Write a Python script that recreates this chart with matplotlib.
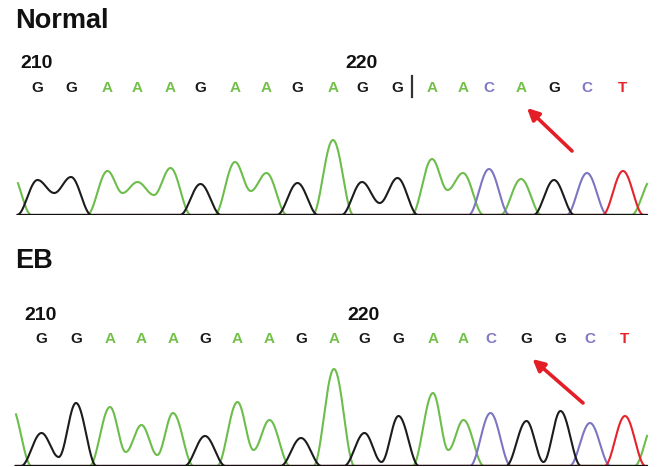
import numpy as np
import matplotlib
matplotlib.use("Agg")
import matplotlib.pyplot as plt
from matplotlib import font_manager

# ---- sequence data -------------------------------------------------------
normal_bases = list("GGAAAGAAGAGGAACAGCT")
normal_pos = [37.5, 71, 107.5, 137.5, 170.5, 200.5, 235, 266.5, 297.5, 333,
              362, 397.5, 432, 463, 489, 521, 554, 587, 623]
normal_height = [35, 38, 44, 33, 47, 31, 53, 42, 32, 75,
                 33, 37, 56, 42, 46, 36, 35, 42, 44]
# signal minimum between neighbouring peaks of the same base
normal_valleys = {0: 22, 2: 22, 3: 20, 6: 24, 10: 12, 12: 25}
# partial peaks running off the ends of the window: (position, height, base)
normal_flanks = [(11, 43, "A"), (652, 36, "A")]

eb_bases = list("GGAAAGAAGAGGAACGGCT")
eb_pos = [41.5, 76, 110, 141.5, 173, 205, 237.5, 269.5, 301, 334,
          364.5, 398.5, 433, 463.5, 490.5, 526.5, 560.5, 590, 625]
eb_height = [33, 63, 59, 41, 53, 30, 64, 46, 28, 97,
             33, 50, 73, 46, 53, 45, 55, 43, 50]
eb_valleys = {0: 9, 2: 14, 3: 11, 6: 16, 10: 4, 12: 16, 15: 4}
eb_flanks = [(11, 60, "A"), (655, 45, "A")]

first_position = 210
tick_every = 10
mutation_index = 15  # A>G

trace_colors = {"A": "#6dbd4c", "G": "#1c1c1c", "C": "#7c76c2", "T": "#e6222b"}
letter_colors = {"A": "#74c04a", "G": "#1a1a1a", "C": "#7f78c6", "T": "#e6222b"}

# ---- fonts ---------------------------------------------------------------
installed = {f.name for f in font_manager.fontManager.ttflist}
narrow = "Liberation Sans Narrow" in installed
family = "Liberation Sans Narrow" if narrow else "Liberation Sans"
plt.rcParams["font.family"] = [family, "DejaVu Sans"]
TITLE_SIZE = 21 if narrow else 19.5
BASE_SIZE = 12 if narrow else 11
NUM_SIZE = 15 if narrow else 14

HALF_WIDTH = 20.5


def channel_trace(x, peaks, valleys, base):
    """Build one dye channel as a smooth curve through peak/valley knots."""
    knots = []
    prev = None
    for idx, (p, h, b) in enumerate(peaks):
        if b != base:
            continue
        if prev is not None and valleys.get(prev[0]) is not None and prev[0] == idx - 1:
            knots.append(((prev[1] + p) / 2.0, valleys[prev[0]]))
        else:
            if prev is not None:
                knots.append((prev[1] + HALF_WIDTH, 0.0))
            knots.append((p - HALF_WIDTH, 0.0))
        knots.append((p, h))
        prev = (idx, p)
    if prev is not None:
        knots.append((prev[1] + HALF_WIDTH, 0.0))
    kx = np.array([k[0] for k in knots])
    ky = np.array([k[1] for k in knots])
    y = np.zeros_like(x)
    seg = np.searchsorted(kx, x) - 1
    ok = (seg >= 0) & (seg < len(kx) - 1)
    s = seg[ok]
    t = (x[ok] - kx[s]) / (kx[s + 1] - kx[s])
    y[ok] = ky[s] + (ky[s + 1] - ky[s]) * (1 - np.cos(np.pi * t)) / 2.0
    return y


def draw_panel(ax, title, bases, pos, height, valleys, flanks, x0, x1,
               arrow_tail, bar_after=None):
    # peak list: flank, called bases, flank (valley keys shift by one)
    peaks = [flanks[0]] + list(zip(pos, height, bases)) + [flanks[1]]
    shifted = {k + 1: v for k, v in valleys.items()}
    x = np.linspace(x0, x1, 2500)
    for base in ["A", "C", "T", "G"]:
        ax.plot(x, channel_trace(x, peaks, shifted, base),
                color=trace_colors[base], lw=1.5, zorder=2,
                solid_joinstyle="round")
    ax.plot([x0 - 2, x1], [0, 0], color="#111111", lw=2.3, zorder=3,
            solid_capstyle="butt")

    ymax = ax.get_ylim()[1]
    ax.text(15, ymax - 21, title, fontsize=TITLE_SIZE, fontweight="bold",
            ha="left", va="center", color="#111111")
    for i, (b, p) in enumerate(zip(bases, pos)):
        ax.text(p, 127, b, fontsize=BASE_SIZE, fontweight="bold", ha="center",
                va="center", color=letter_colors[b])
        if i % tick_every == 0:
            ax.text(p - 1, 151, str(first_position + i), fontsize=NUM_SIZE,
                    fontweight="bold", ha="center", va="center",
                    color="#111111")
    if bar_after is not None:
        bx = (pos[bar_after] + pos[bar_after + 1]) / 2.0 - 3
        ax.plot([bx, bx], [118, 139], color="#333333", lw=1.6, zorder=3)

    head = (pos[mutation_index] + 6, 107)
    ax.annotate("", xy=head, xytext=arrow_tail,
                arrowprops=dict(arrowstyle="-|>,head_length=0.7,head_width=0.35",
                                color="#e41e26", lw=2.6,
                                shrinkA=0, shrinkB=0))


fig = plt.figure(figsize=(6.57, 4.67), dpi=100)
H = 467.0

ax_top = fig.add_axes([0, (H - 215) / H, 1, 215 / H])
ax_top.set_xlim(0, 657)
ax_top.set_ylim(0, 215)
ax_bot = fig.add_axes([0, 1 / H, 1, 226 / H])
ax_bot.set_xlim(0, 657)
ax_bot.set_ylim(0, 226)
for ax in (ax_top, ax_bot):
    ax.axis("off")

draw_panel(ax_top, "Normal", normal_bases, normal_pos, normal_height,
           normal_valleys, normal_flanks, 18, 647, (572, 64), bar_after=11)
draw_panel(ax_bot, "EB", eb_bases, eb_pos, eb_height,
           eb_valleys, eb_flanks, 16, 647, (583, 63))

fig.savefig("out.png", dpi=100, facecolor="white")
